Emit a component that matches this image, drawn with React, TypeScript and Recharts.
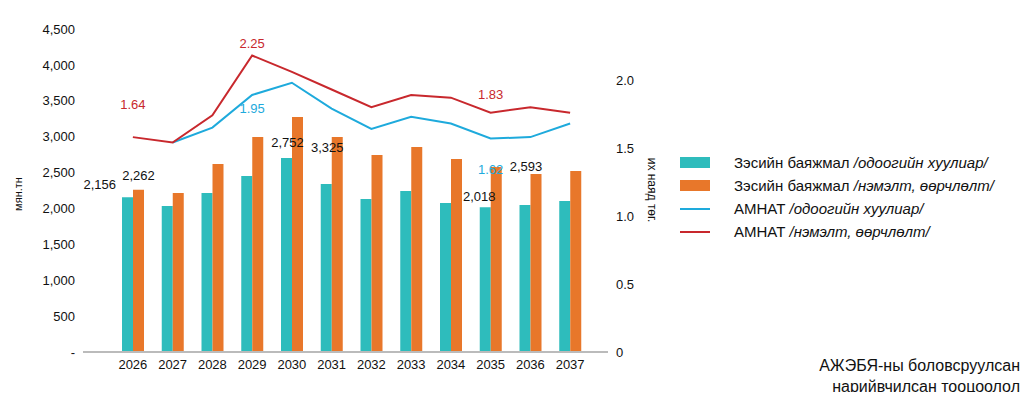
import { Bar, ComposedChart, LabelList, Line, XAxis, YAxis } from "recharts";

const years = ["2026", "2027", "2028", "2029", "2030", "2031", "2032", "2033", "2034", "2035", "2036", "2037"];
const depositBase = [2156, 2033, 2214, 2451, 2702, 2340, 2130, 2242, 2075, 2018, 2047, 2103];
const depositAlt = [2262, 2214, 2618, 2994, 3273, 2994, 2744, 2855, 2688, 2577, 2479, 2521];
const gdpBase = [null, 1.54, 1.65, 1.89, 1.98, 1.79, 1.64, 1.73, 1.68, 1.57, 1.58, 1.68];
const gdpAlt = [1.58, 1.54, 1.74, 2.18, 2.06, 1.93, 1.8, 1.89, 1.87, 1.76, 1.8, 1.76];
const baseLabels = ["2,156", "", "", "", "", "", "", "", "", "2,018", "", ""];
const altLabels = ["2,262", "", "", "2,752", "3,325", "", "", "", "", "2,593", "", ""];
const gdpBaseLabels = ["", "", "", "1.95", "", "", "", "", "", "1.62", "", ""];
const gdpAltLabels = ["1.64", "", "", "2.25", "", "", "", "", "", "1.83", "", ""];
const leftTicks = [0, 500, 1000, 1500, 2000, 2500, 3000, 3500, 4000, 4500];
const rightTicks = [0, 0.5, 1, 1.5, 2];

const data = years.map((y, i) => ({
  year: y,
  base: depositBase[i],
  alt: depositAlt[i],
  gBase: gdpBase[i],
  gAlt: gdpAlt[i],
}));

const font = "'Liberation Sans', Arial, sans-serif";

// label placement offsets per index: [dx, dy, anchor]
type Place = [number, number, string];
const basePlace: Record<number, Place> = { 0: [-6, -8, "end"], 9: [-6, -6, "middle"] };
const altPlace: Record<number, Place> = {
  0: [0, -10, "middle"],
  3: [8, 10, "start"],
  4: [8, 35, "start"],
  9: [8, 4, "start"],
};
const gBasePlace: Record<number, Place> = { 3: [0, 18, "middle"], 9: [0, 36, "middle"] };
const gAltPlace: Record<number, Place> = { 0: [0, -28, "middle"], 3: [0, -8, "middle"], 9: [0, -14, "middle"] };

const textLabel = (texts: string[], color: string, place: Record<number, Place>) => (p: any) => {
  const t = texts[p.index];
  if (!t) return null;
  const [dx, dy, anchor] = place[p.index] || [0, -8, "middle"];
  const w = p.width || 0;
  const x = anchor === "start" ? p.x + w + dx : anchor === "end" ? p.x + dx : p.x + w / 2 + dx;
  return (
    <text x={x} y={p.y + dy} fill={color} fontSize={13} textAnchor={anchor} fontFamily={font}>
      {t}
    </text>
  );
};

const legendItems = [
  { color: "#2ebcbc", bar: true, name: "Зэсийн баяжмал ", note: "/одоогийн хуулиар/" },
  { color: "#e8772a", bar: true, name: "Зэсийн баяжмал ", note: "/нэмэлт, өөрчлөлт/" },
  { color: "#1eaadc", bar: false, name: "АМНАТ ", note: "/одоогийн хуулиар/" },
  { color: "#c8282d", bar: false, name: "АМНАТ ", note: "/нэмэлт, өөрчлөлт/" },
];

export default function App() {
  return (
    <div style={{ position: "relative", width: 1014, height: 384, fontFamily: font }}>
      <ComposedChart
        width={680}
        height={390}
        data={data}
        margin={{ top: 21, right: 30, left: 15, bottom: 16 }}
        barGap={0}
        barSize={11}
      >
        <XAxis
          dataKey="year"
          axisLine={{ stroke: "#bbb", strokeWidth: 2 }}
          tickLine={false}
          tick={{ fill: "#111", fontSize: 13, fontFamily: font }}
          height={30}
          padding={{ left: 30, right: 18 }}
        />
        <YAxis
          yAxisId="l"
          domain={[0, 4500]}
          ticks={leftTicks}
          axisLine={false}
          tickLine={false}
          width={60}
          tick={{ fill: "#111", fontSize: 13, fontFamily: font }}
          tickFormatter={(v: number) => (v === 0 ? "-" : v.toLocaleString("en-US"))}
        />
        <YAxis
          yAxisId="r"
          orientation="right"
          domain={[0, 2.375]}
          ticks={rightTicks}
          axisLine={false}
          tickLine={false}
          width={50}
          tick={{ fill: "#111", fontSize: 13, fontFamily: font }}
          tickFormatter={(v: number) => (v === 0 ? "0" : v.toFixed(1))}
        />
        <Bar yAxisId="l" dataKey="base" fill="#2ebcbc" isAnimationActive={false}>
          <LabelList content={textLabel(baseLabels, "#111", basePlace)} />
        </Bar>
        <Bar yAxisId="l" dataKey="alt" fill="#e8772a" isAnimationActive={false}>
          <LabelList content={textLabel(altLabels, "#111", altPlace)} />
        </Bar>
        <Line yAxisId="r" dataKey="gBase" stroke="#1eaadc" strokeWidth={2} dot={false} isAnimationActive={false}>
          <LabelList content={textLabel(gdpBaseLabels, "#1eaadc", gBasePlace)} />
        </Line>
        <Line yAxisId="r" dataKey="gAlt" stroke="#c8282d" strokeWidth={2} dot={false} isAnimationActive={false}>
          <LabelList content={textLabel(gdpAltLabels, "#c8282d", gAltPlace)} />
        </Line>
      </ComposedChart>
      <div
        style={{
          position: "absolute",
          left: -20,
          top: 180,
          width: 60,
          textAlign: "center",
          fontSize: 11,
          transform: "rotate(-90deg)",
          color: "#111",
        }}
      >
        мян.тн
      </div>
      <div
        style={{
          position: "absolute",
          left: 604,
          top: 175,
          width: 80,
          textAlign: "center",
          fontSize: 12,
          transform: "rotate(90deg)",
          color: "#111",
        }}
      >
        их наяд төг.
      </div>
      <div style={{ position: "absolute", left: 672, top: 143, fontSize: 15, color: "#111" }}>
        {legendItems.map((it, k) => (
          <div key={k} style={{ display: "flex", alignItems: "center", height: 23 }}>
            <span
              style={{
                display: "inline-block",
                width: 30,
                height: it.bar ? 11 : 2,
                background: it.color,
                marginRight: 24,
              }}
            />
            <span>
              {it.name}
              <i>{it.note}</i>
            </span>
          </div>
        ))}
      </div>
      <div
        style={{
          position: "absolute",
          right: 2,
          top: 347,
          fontSize: 16,
          textAlign: "right",
          color: "#111",
          lineHeight: "21px",
        }}
      >
        АЖЭБЯ-ны боловсруулсан
        <br />
        нарийвчилсан тооцоолол
      </div>
    </div>
  );
}
